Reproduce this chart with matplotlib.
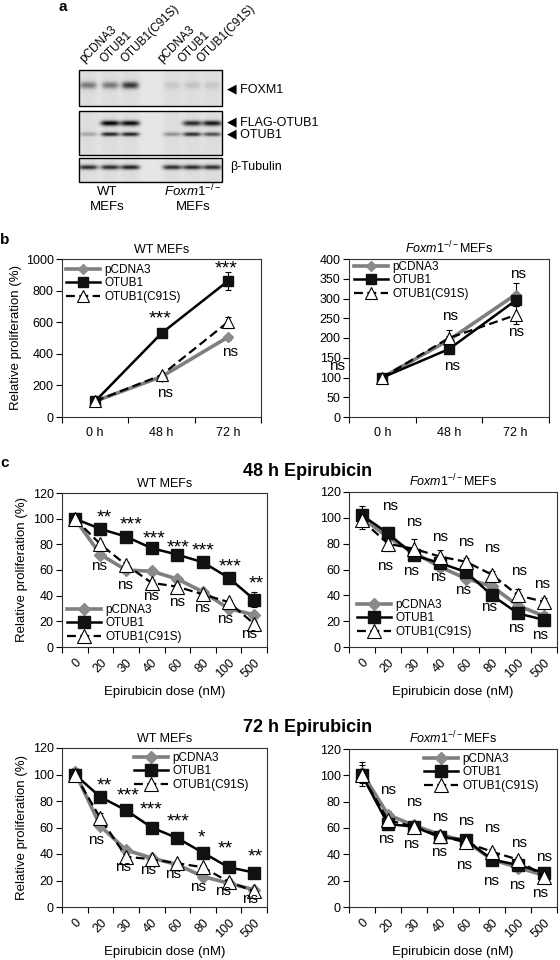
import numpy as np
import matplotlib
matplotlib.use('Agg')
import matplotlib.pyplot as plt
from matplotlib.lines import Line2D
from matplotlib.patches import Rectangle
import matplotlib.transforms as mtransforms

plt.rcParams['font.family'] = ['Liberation Sans', 'DejaVu Sans']
plt.rcParams['mathtext.fontset'] = 'custom'
plt.rcParams['mathtext.rm'] = 'Liberation Sans'
plt.rcParams['mathtext.it'] = 'Liberation Sans:italic'
plt.rcParams['mathtext.bf'] = 'Liberation Sans:bold'

# ---------------- data ----------------
series = ['pCDNA3', 'OTUB1', 'OTUB1(C91S)']
time_labels = ['0 h', '48 h', '72 h']
dose_labels = ['0', '20', '30', '40', '60', '80', '100', '500']

# panel a: band intensities per lane (WT: pCDNA3, OTUB1, C91S | Foxm1-/-: pCDNA3, OTUB1, C91S)
lane_labels = ['pCDNA3', 'OTUB1', 'OTUB1(C91S)', 'pCDNA3', 'OTUB1', 'OTUB1(C91S)']
foxm1_band = [0.45, 0.45, 0.75, 0.10, 0.12, 0.10]
flag_band = [0.0, 1.0, 0.95, 0.0, 0.8, 0.9]
otub1_band = [0.25, 0.85, 0.85, 0.35, 0.8, 0.65]
tubulin_band = [0.8, 0.8, 0.85, 0.8, 0.8, 0.8]

# panel b (relative proliferation %, 0/48/72 h)
b_wt_pcdna3 = [100, 255, 505]
b_wt_otub1 = [100, 530, 860]
b_wt_c91s = [100, 265, 600]
b_wt_pcdna3_err = [5, 10, 15]
b_wt_otub1_err = [5, 10, 55]
b_wt_c91s_err = [5, 10, 35]

b_ko_pcdna3 = [100, 195, 310]
b_ko_otub1 = [100, 172, 295]
b_ko_c91s = [100, 200, 258]
b_ko_pcdna3_err = [3, 10, 28]
b_ko_otub1_err = [3, 8, 10]
b_ko_c91s_err = [3, 20, 22]

# panel c, 48 h
c48_wt_pcdna3 = [100, 72, 60, 59, 53, 43, 30, 25]
c48_wt_otub1 = [100, 92, 86, 77, 72, 66, 54, 37]
c48_wt_c91s = [100, 80, 64, 50, 47, 41, 35, 18]
c48_wt_pcdna3_err = [2, 2, 2, 2, 2, 2, 2, 2]
c48_wt_otub1_err = [2, 2, 2, 2, 2, 2, 2, 6]
c48_wt_c91s_err = [3, 2, 2, 2, 2, 2, 2, 2]

c48_ko_pcdna3 = [100, 85, 73, 62, 53, 47, 32, 24]
c48_ko_otub1 = [102, 88, 71, 65, 58, 40, 26, 21]
c48_ko_c91s = [98, 80, 76, 70, 66, 56, 40, 35]
c48_ko_pcdna3_err = [3, 3, 3, 3, 3, 3, 3, 3]
c48_ko_otub1_err = [7, 5, 3, 3, 3, 3, 3, 3]
c48_ko_c91s_err = [7, 6, 8, 5, 3, 3, 5, 3]

# panel c, 72 h
c72_wt_pcdna3 = [102, 61, 43, 37, 32, 23, 18, 13]
c72_wt_otub1 = [100, 83, 73, 60, 52, 41, 30, 26]
c72_wt_c91s = [100, 67, 38, 36, 33, 30, 19, 12]
c72_wt_pcdna3_err = [3, 2, 2, 2, 2, 2, 2, 2]
c72_wt_otub1_err = [3, 2, 2, 2, 2, 2, 2, 2]
c72_wt_c91s_err = [3, 4, 2, 2, 2, 2, 2, 2]

c72_ko_pcdna3 = [102, 70, 62, 55, 50, 36, 30, 24]
c72_ko_otub1 = [100, 63, 61, 53, 51, 36, 32, 26]
c72_ko_c91s = [100, 66, 61, 54, 49, 42, 36, 23]
c72_ko_pcdna3_err = [8, 3, 2, 2, 2, 2, 2, 2]
c72_ko_otub1_err = [3, 2, 2, 2, 2, 2, 2, 2]
c72_ko_c91s_err = [8, 2, 2, 2, 2, 2, 2, 2]

# significance labels: (x position in category units, y value, text)
b_wt_marks = [(0.98, 658, '***'), (1.98, 975, '***'), (1.06, 150, 'ns'), (2.03, 410, 'ns')]
b_ko_marks = [(1.01, 256, 'ns'), (2.04, 363, 'ns'), (1.04, 129, 'ns'), (2.01, 215, 'ns'), (-0.68, 129, 'ns')]
c48_wt_marks = [(1.16, 105, '**'), (2.2, 100, '***'), (3.08, 89, '***'), (4.04, 82, '***'),
                (5.02, 79.5, '***'), (6.06, 67, '***'), (7.1, 54, '**'),
                (0.96, 63, 'ns'), (1.97, 48, 'ns'), (2.99, 40, 'ns'), (4.0, 35, 'ns'),
                (4.95, 30, 'ns'), (5.87, 22, 'ns'), (6.78, 10, 'ns')]
c48_ko_marks = [(1.06, 109, 'ns'), (2.01, 97, 'ns'), (3.0, 85, 'ns'), (3.99, 81, 'ns'),
                (5.01, 77, 'ns'), (6.03, 59, 'ns'), (6.92, 49, 'ns'),
                (0.9, 63, 'ns'), (1.89, 59, 'ns'), (2.94, 54, 'ns'), (3.9, 44, 'ns'),
                (4.88, 31, 'ns'), (5.93, 15, 'ns'), (6.86, 9, 'ns')]
c72_wt_marks = [(1.16, 95.5, '**'), (2.08, 88, '***'), (2.99, 78, '***'), (4.04, 69, '***'),
                (4.95, 57, '*'), (5.87, 48, '**'), (7.04, 42, '**'),
                (0.83, 50.5, 'ns'), (1.88, 30, 'ns'), (2.86, 28, 'ns'), (3.84, 25, 'ns'),
                (4.82, 15, 'ns'), (5.77, 12, 'ns'), (6.82, 6, 'ns')]
c72_ko_marks = [(1.0, 89, 'ns'), (2.02, 80, 'ns'), (3.02, 68, 'ns'), (4.02, 65.5, 'ns'),
                (5.0, 60, 'ns'), (6.03, 48.6, 'ns'), (6.99, 38, 'ns'),
                (0.91, 52, 'ns'), (1.89, 47.5, 'ns'), (2.95, 42, 'ns'), (3.93, 32, 'ns'),
                (4.95, 20, 'ns'), (5.97, 17, 'ns'), (6.86, 11, 'ns')]

# ---------------- layout helpers ----------------
W, H = 560, 960
fig = plt.figure(figsize=(5.6, 9.6), dpi=100)


def fx(x):
    return x / W


def fy(y):
    return 1 - y / H


def rect(x0, y0, x1, y1):
    return [x0 / W, 1 - y1 / H, (x1 - x0) / W, (y1 - y0) / H]


styles = [
    dict(color='#7f7f7f', lw=2.6, marker='D', ms=6.5, mfc='#8a8a8a', mec='#8a8a8a', ls='-'),
    dict(color='black', lw=1.8, marker='s', ms=8.5, mfc='#111111', mec='#111111', ls='-'),
    dict(color='black', lw=1.6, marker='^', ms=10, mfc='white', mec='black', mew=0.8, ls=(0, (4, 2))),
]

KO_TITLE = r'$\it{Foxm1}^{-/-}$MEFs'


def line_panel(r, ys, errs, cats, ylim, ystep, title, marks, legend_xy,
               rot=False, ylabel=False, xlabel=None, bigstyle=1.0):
    ax = fig.add_axes(rect(*r))
    n = len(cats)
    x = np.arange(n)
    handles = []
    for i in range(3):
        st = dict(styles[i])
        st['ms'] = st['ms'] * bigstyle
        ax.errorbar(x, ys[i], yerr=errs[i], fmt='none', ecolor='black', elinewidth=0.8,
                    capsize=2.5, capthick=0.8, zorder=2)
        h, = ax.plot(x, ys[i], zorder=3 + i, **st)
        handles.append(h)
    ax.set_xlim(-0.5, n - 0.5)
    ax.set_ylim(*ylim)
    ax.set_yticks(np.arange(ylim[0], ylim[1] + 0.1, ystep))
    ax.set_xticks(np.arange(-0.5, n, 1))
    ax.set_xticklabels([])
    ax.set_xticks(x, minor=True)
    if rot:
        ax.set_xticklabels(cats, minor=True, rotation=45, ha='right', va='top',
                           rotation_mode='anchor', fontsize=9)
        off = mtransforms.ScaledTranslation(7 / 100, 0, fig.dpi_scale_trans)
        for lab in ax.get_xticklabels(minor=True):
            lab.set_transform(lab.get_transform() + off)
        ax.tick_params(axis='x', which='minor', length=0, pad=7)
    else:
        ax.set_xticklabels(cats, minor=True, fontsize=9)
        ax.tick_params(axis='x', which='minor', length=0, pad=7)
    ax.tick_params(axis='x', which='major', length=4, width=0.8, direction='out')
    ax.tick_params(axis='y', length=4, width=0.8, direction='out', labelsize=9, pad=2)
    for s in ax.spines.values():
        s.set_linewidth(0.8)
        s.set_color('#333333')
    ax.set_title(title, fontsize=9, pad=4)
    if ylabel:
        ax.set_ylabel('Relative proliferation (%)', fontsize=9.5, labelpad=3)
    if xlabel:
        ax.set_xlabel(xlabel, fontsize=9.5, labelpad=4)
    star_off = mtransforms.ScaledTranslation(0, -6 / 100, fig.dpi_scale_trans)
    for mx, my, t in marks:
        if '*' in t:
            ax.text(mx, my, t, transform=ax.transData + star_off, ha='center', va='center',
                    fontsize=14, clip_on=False, zorder=10)
        else:
            ax.text(mx, my, t, ha='center', va='center', fontsize=11,
                    clip_on=False, zorder=10)
    ax.legend(handles, series, loc='upper left', bbox_to_anchor=(fx(legend_xy[0]), fy(legend_xy[1])),
              bbox_transform=fig.transFigure, frameon=False, borderpad=0, borderaxespad=0,
              handlelength=2.9, handletextpad=0.35, labelspacing=0.12, fontsize=8.5)
    return ax


# ---------------- panel a: blots ----------------
axa = fig.add_axes([0, 0, 1, 1], zorder=-1)
axa.axis('off')
lane_x = [88, 110, 130, 172, 192, 212]
BX0, BX1 = 79, 222


def blot(y0, y1, rows):
    xs = np.arange(BX0, BX1, 0.5)
    yy = np.arange(y0, y1, 0.5)
    X, Y = np.meshgrid(xs, yy)
    img = np.zeros_like(X)
    for by, vals, hw, hh in rows:
        for lx, v in zip(lane_x, vals):
            img += v * np.exp(-(np.abs((X - lx) / hw) ** 4 + ((Y - by) / hh) ** 2))
    for lx in lane_x:
        img += 0.04 * np.exp(-np.abs((X - lx) / 9) ** 4)
    gray = 0.9 - 0.88 * np.clip(img, 0, 1)
    axa.imshow(gray, cmap='gray', vmin=0, vmax=1, extent=(BX0, BX1, y1, y0),
               interpolation='bilinear', aspect='auto')
    axa.add_patch(Rectangle((BX0, y0), BX1 - BX0, y1 - y0, fill=False, lw=1.0, ec='black'))


blot(70, 106, [(85, foxm1_band, 8.5, 3.5)])
blot(111, 155, [(123, flag_band, 9.5, 2.6), (134, otub1_band, 9, 2.0)])
blot(158, 182, [(167, tubulin_band, 9.5, 2.3)])
axa.set_xlim(0, W)
axa.set_ylim(H, 0)

lab_x = [86, 107, 127, 164, 185, 204]
for lx, t in zip(lab_x, lane_labels):
    axa.text(lx, 65, t, rotation=45, ha='left', va='bottom', rotation_mode='anchor', fontsize=8.5)

axa.text(227, 89, '\u25c0 FOXM1', ha='left', va='center', fontsize=9)
axa.text(227, 122, '\u25c0 FLAG-OTUB1', ha='left', va='center', fontsize=9)
axa.text(227, 134, '\u25c0 OTUB1', ha='left', va='center', fontsize=9)
axa.text(230, 167, '\u03b2-Tubulin', ha='left', va='center', fontsize=9)
axa.text(107, 192, 'WT', ha='center', va='center', fontsize=9.5)
axa.text(107, 207, 'MEFs', ha='center', va='center', fontsize=9.5)
axa.text(193, 191, r'$\it{Foxm1}^{-/-}$', ha='center', va='center', fontsize=9.5)
axa.text(193, 207, 'MEFs', ha='center', va='center', fontsize=9.5)
axa.text(63, 7, 'a', ha='center', va='center', fontsize=11, fontweight='bold')
axa.text(5, 240, 'b', ha='center', va='center', fontsize=11, fontweight='bold')
axa.text(5, 463, 'c', ha='center', va='center', fontsize=11, fontweight='bold')
axa.text(308, 471, '48 h Epirubicin', ha='center', va='center', fontsize=13, fontweight='bold')
axa.text(308, 727, '72 h Epirubicin', ha='center', va='center', fontsize=13, fontweight='bold')

# ---------------- panel b ----------------
line_panel((62, 259, 261, 417), [b_wt_pcdna3, b_wt_otub1, b_wt_c91s],
           [b_wt_pcdna3_err, b_wt_otub1_err, b_wt_c91s_err], time_labels, (0, 1000), 200,
           'WT MEFs', b_wt_marks, (66, 264), ylabel=True, bigstyle=0.85)
line_panel((349, 259, 549, 417), [b_ko_pcdna3, b_ko_otub1, b_ko_c91s],
           [b_ko_pcdna3_err, b_ko_otub1_err, b_ko_c91s_err], time_labels, (0, 400), 50,
           KO_TITLE, b_ko_marks, (354, 261), bigstyle=0.85)

# ---------------- panel c ----------------
xl = 'Epirubicin dose (nM)'
line_panel((62, 493, 267, 647), [c48_wt_pcdna3, c48_wt_otub1, c48_wt_c91s],
           [c48_wt_pcdna3_err, c48_wt_otub1_err, c48_wt_c91s_err], dose_labels, (0, 120), 20,
           'WT MEFs', c48_wt_marks, (67, 604), rot=True, ylabel=True, xlabel=xl)
line_panel((349, 492, 557, 647), [c48_ko_pcdna3, c48_ko_otub1, c48_ko_c91s],
           [c48_ko_pcdna3_err, c48_ko_otub1_err, c48_ko_c91s_err], dose_labels, (0, 120), 20,
           KO_TITLE, c48_ko_marks, (357, 599), rot=True, xlabel=xl)
line_panel((62, 748, 267, 907), [c72_wt_pcdna3, c72_wt_otub1, c72_wt_c91s],
           [c72_wt_pcdna3_err, c72_wt_otub1_err, c72_wt_c91s_err], dose_labels, (0, 120), 20,
           'WT MEFs', c72_wt_marks, (134, 752), rot=True, ylabel=True, xlabel=xl)
line_panel((349, 749, 557, 907), [c72_ko_pcdna3, c72_ko_otub1, c72_ko_c91s],
           [c72_ko_pcdna3_err, c72_ko_otub1_err, c72_ko_c91s_err], dose_labels, (0, 120), 20,
           KO_TITLE, c72_ko_marks, (424, 753), rot=True, xlabel=xl)

fig.savefig('out.png', dpi=100, facecolor='white')
